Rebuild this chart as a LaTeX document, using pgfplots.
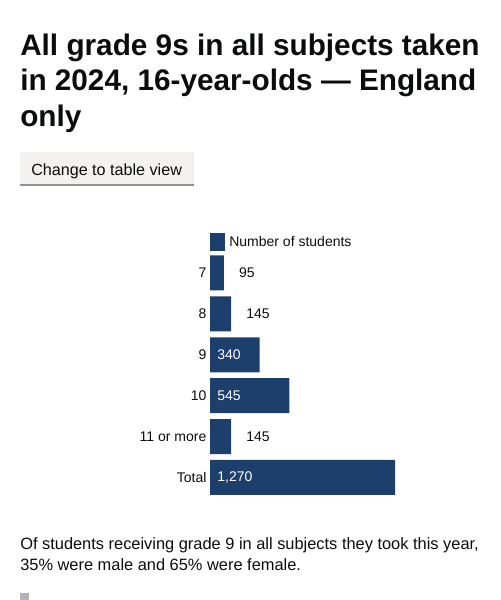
\documentclass[border=0pt]{standalone}
\usepackage{pgfplots}
\pgfplotsset{compat=1.18}
\usepackage{fontspec}
\setmainfont{Liberation Sans}
\definecolor{barc}{HTML}{1D3F6C}
\definecolor{ink}{HTML}{0B0C0C}
\definecolor{btn}{HTML}{F3F2F1}
\definecolor{btnedge}{HTML}{929191}
\definecolor{sq}{HTML}{B1B4B6}
\begin{document}
\begin{tikzpicture}
\path[use as bounding box] (0,0) rectangle (375pt,-450pt);
% title
\node[anchor=base west, inner sep=0pt, text=ink, font=\fontsize{22.3}{26}\selectfont\bfseries] at (15pt,-41.25pt) {All grade 9s in all subjects taken};
\node[anchor=base west, inner sep=0pt, text=ink, font=\fontsize{22.3}{26}\selectfont\bfseries] at (15pt,-68pt) {in 2024, 16-year-olds — England};
\node[anchor=base west, inner sep=0pt, text=ink, font=\fontsize{22.3}{26}\selectfont\bfseries] at (15pt,-94.5pt) {only};
% button
\fill[btn] (15pt,-114pt) rectangle (145.3pt,-139.5pt);
\fill[btnedge] (15pt,-138pt) rectangle (145.3pt,-139.5pt);
\node[anchor=base west, inner sep=0pt, text=ink, font=\fontsize{12.1}{14}\selectfont] at (23.25pt,-131.25pt) {Change to table view};
% chart
\begin{axis}[
  at={(157.5pt,-189.4pt)}, anchor=north west,
  scale only axis, width=138.75pt, height=184.05pt,
  xmin=0, xmax=1270, ymin=-0.5, ymax=5.5, y dir=reverse,
  axis line style={draw=none},
  xtick=\empty, ytick={0,...,5},
  yticklabels={7,8,9,10,11 or more,Total},
  major tick length=0pt,
  yticklabel style={inner sep=0pt, xshift=-2.5pt, text=ink, font=\fontsize{10.5}{12}\selectfont},
  clip=false,
  /pgf/number format/assume math mode=true,
  /pgf/number format/1000 sep={,},
  legend style={at={(0,1)}, anchor=south west, yshift=1.35pt, draw=none, fill=none,
    inner sep=0pt, outer sep=0pt, text=ink, font=\fontsize{10.5}{12}\selectfont,
    nodes={inner sep=0pt}, /tikz/every odd column/.append style={column sep=3.5pt}},
  legend cell align=left,
]
\addplot[xbar, bar width=26.25pt, fill=barc, draw=none,
  legend image code/.code={\fill[barc] (0pt,-6.5pt) rectangle (11pt,6.5pt);}]
  coordinates {(95,0) (145,1) (340,2) (545,3) (145,4) (1270,5)};
\addlegendentry{Number of students}
\addplot[forget plot, draw=none, mark=none, nodes near coords, point meta=x,
  nodes near coords style={anchor=west, inner sep=0pt, xshift=11.25pt, text=ink, font=\fontsize{10.5}{12}\selectfont}]
  coordinates {(95,0) (145,1) (145,4)};
\addplot[forget plot, draw=none, mark=none, point meta=explicit, nodes near coords,
  nodes near coords style={anchor=west, inner sep=0pt, xshift=5.3pt, text=white, font=\fontsize{10.5}{12}\selectfont}]
  coordinates {(0,2) [340] (0,3) [545] (0,5) [1270]};
\end{axis}
% footer text
\node[anchor=base west, inner sep=0pt, text=ink, font=\fontsize{12.3}{15}\selectfont] at (15pt,-411.75pt) {Of students receiving grade 9 in all subjects they took this year,};
\node[anchor=base west, inner sep=0pt, text=ink, font=\fontsize{12.3}{15}\selectfont] at (15pt,-427.5pt) {35\% were male and 65\% were female.};
\fill[sq] (15pt,-444.5pt) rectangle (21.5pt,-450pt);
\end{tikzpicture}
\end{document}
